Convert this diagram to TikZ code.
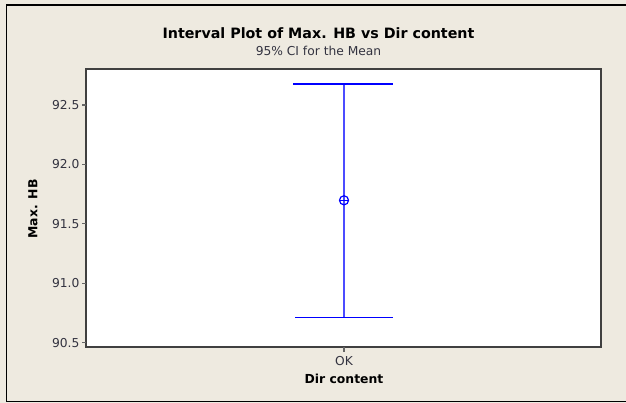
\documentclass[tikz,border=0pt]{standalone}
\usepackage{fontspec}
\setmainfont{DejaVu Sans}
\usetikzlibrary{positioning}
\definecolor{panelbg}{HTML}{EEEAE0}
\definecolor{ciblue}{HTML}{0000FF}
\definecolor{ticktext}{HTML}{333340}

\begin{document}
\begin{tikzpicture}[x=0.75pt, y=-0.75pt,
    ticklab/.style={left, inner sep=1pt, text=ticktext, font=\fontsize{9.2}{11}\selectfont},
    axlab/.style={font=\bfseries\fontsize{9.3}{11}\selectfont},
    cibar/.style={ciblue, line width=0.9pt}]
    \useasboundingbox (0,0) rectangle (626,403);

    % Background and frame
    \fill[panelbg] (0,0) rectangle (626,403);
    \draw[line width=0.9pt] (626,5) -- (6.5,5) -- (6.5,401.5) -- (626,401.5);

    % Titles
    \node[font=\bfseries\fontsize{10.7}{13}\selectfont] (title) at (318.5,33) {Interval Plot of Max. HB vs Dir content};
    \node[font=\fontsize{9.2}{11}\selectfont, text=ticktext] (subtitle) at (318.5,50.5) {95\% CI for the Mean};

    % Plot area
    \draw[fill=white, draw=black!75, line width=0.9pt] (86,69) rectangle (601,347);

    % Y ticks
    \foreach \y/\lab in {105/92.5, 164.4/92.0, 223.8/91.5, 283.2/91.0, 342.7/90.5} {
        \draw[black!60, line width=0.9pt] (82,\y) -- (86,\y);
        \node[ticklab] (tick\lab) at (81,\y) {\lab};
    }

    % X tick
    \draw[black!60, line width=1.2pt] (344,347) -- (344,352);
    \node[ticklab, anchor=center] (okLab) at (344,361.5) {OK};

    % Axis labels
    \node[axlab] (xLab) at (344,378.5) {Dir content};
    \node[axlab, rotate=90] (yLab) at (33,209) {Max. HB};

    % Interval
    \coordinate (ciTop) at (344,84);
    \coordinate (ciBot) at (344,317.3);
    \coordinate (ciMean) at (344,200.3);
    \draw[cibar, ciblue!70] (ciTop) -- (ciBot);
    \draw[cibar] ([xshift=-38pt]ciTop) -- ([xshift=36.5pt]ciTop);
    \draw[cibar] ([xshift=-36.5pt]ciBot) -- ([xshift=36.5pt]ciBot);

    % Mean symbol
    \draw[cibar] (ciMean) circle (3.4pt);
    \draw[cibar] ([xshift=-3.4pt]ciMean) -- ([xshift=3.4pt]ciMean);
\end{tikzpicture}
\end{document}
